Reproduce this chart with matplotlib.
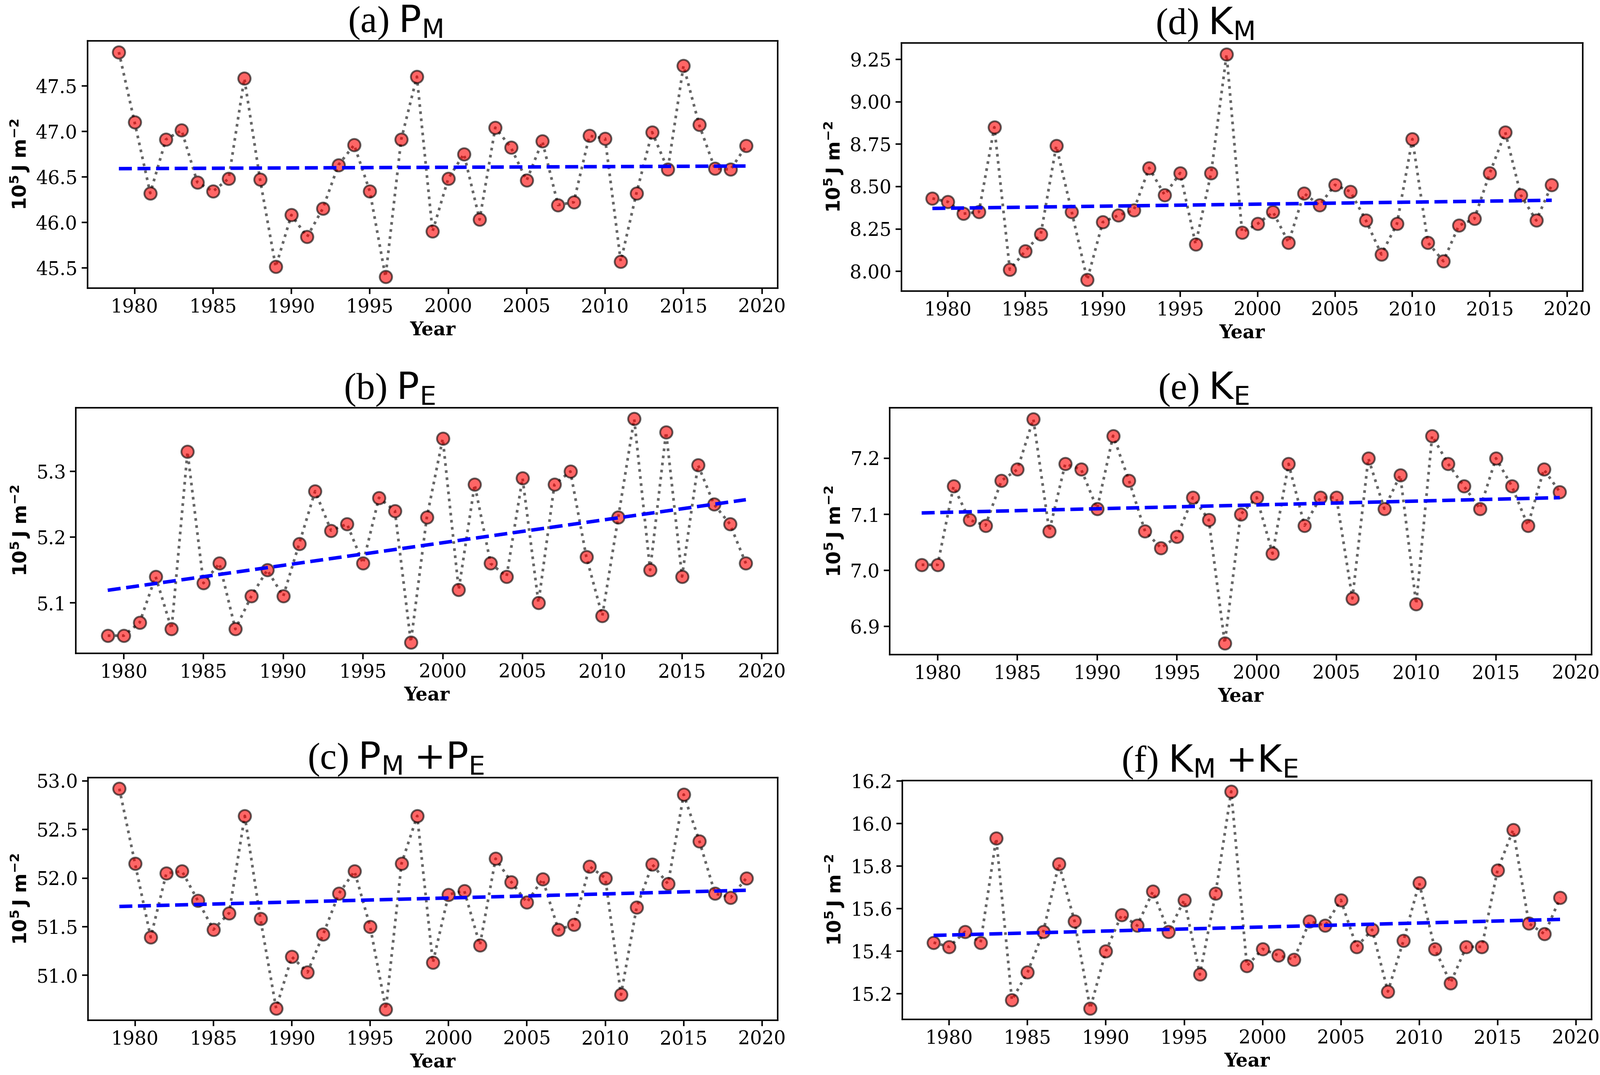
import numpy as np
import matplotlib
matplotlib.use("Agg")
import matplotlib.pyplot as plt

plt.rcParams['font.family'] = 'DejaVu Serif'
plt.rcParams['mathtext.fontset'] = 'dejavusans'

years = np.arange(1979, 2020)

P_M = [47.87, 47.10, 46.32, 46.91, 47.01, 46.44, 46.34, 46.48, 47.58, 46.47,
       45.51, 46.08, 45.84, 46.15, 46.63, 46.85, 46.34, 45.40, 46.91, 47.60,
       45.90, 46.48, 46.75, 46.03, 47.04, 46.82, 46.46, 46.89, 46.19, 46.22,
       46.95, 46.92, 45.57, 46.32, 46.99, 46.58, 47.72, 47.07, 46.59, 46.58,
       46.84]

P_E = [5.05, 5.05, 5.07, 5.14, 5.06, 5.33, 5.13, 5.16, 5.06, 5.11,
       5.15, 5.11, 5.19, 5.27, 5.21, 5.22, 5.16, 5.26, 5.24, 5.04,
       5.23, 5.35, 5.12, 5.28, 5.16, 5.14, 5.29, 5.10, 5.28, 5.30,
       5.17, 5.08, 5.23, 5.38, 5.15, 5.36, 5.14, 5.31, 5.25, 5.22,
       5.16]

P_ME = [52.92, 52.15, 51.39, 52.05, 52.07, 51.77, 51.47, 51.64, 52.64, 51.58,
        50.66, 51.19, 51.03, 51.42, 51.84, 52.07, 51.50, 50.65, 52.15, 52.64,
        51.13, 51.83, 51.87, 51.31, 52.20, 51.96, 51.75, 51.99, 51.47, 51.52,
        52.12, 52.00, 50.80, 51.70, 52.14, 51.94, 52.86, 52.38, 51.84, 51.80,
        52.00]

K_M = [8.43, 8.41, 8.34, 8.35, 8.85, 8.01, 8.12, 8.22, 8.74, 8.35,
       7.95, 8.29, 8.33, 8.36, 8.61, 8.45, 8.58, 8.16, 8.58, 9.28,
       8.23, 8.28, 8.35, 8.17, 8.46, 8.39, 8.51, 8.47, 8.30, 8.10,
       8.28, 8.78, 8.17, 8.06, 8.27, 8.31, 8.58, 8.82, 8.45, 8.30,
       8.51]

K_E = [7.01, 7.01, 7.15, 7.09, 7.08, 7.16, 7.18, 7.27, 7.07, 7.19,
       7.18, 7.11, 7.24, 7.16, 7.07, 7.04, 7.06, 7.13, 7.09, 6.87,
       7.10, 7.13, 7.03, 7.19, 7.08, 7.13, 7.13, 6.95, 7.20, 7.11,
       7.17, 6.94, 7.24, 7.19, 7.15, 7.11, 7.20, 7.15, 7.08, 7.18,
       7.14]

K_ME = [15.44, 15.42, 15.49, 15.44, 15.93, 15.17, 15.30, 15.49, 15.81, 15.54,
        15.13, 15.40, 15.57, 15.52, 15.68, 15.49, 15.64, 15.29, 15.67, 16.15,
        15.33, 15.41, 15.38, 15.36, 15.54, 15.52, 15.64, 15.42, 15.50, 15.21,
        15.45, 15.72, 15.41, 15.25, 15.42, 15.42, 15.78, 15.97, 15.53, 15.48,
        15.65]

titles = ["(a) ", "(b) ", "(c) ", "(d) ", "(e) ", "(f) "]
math_titles = [r"$\mathrm{P_M}$", r"$\mathrm{P_E}$", r"$\mathrm{P_M}$ $\mathrm{+P_E}$",
               r"$\mathrm{K_M}$", r"$\mathrm{K_E}$", r"$\mathrm{K_M}$ $\mathrm{+K_E}$"]
series = [P_M, P_E, P_ME, K_M, K_E, K_ME]

# axes rectangles [left, bottom, width, height] in figure fraction
rects = [
    [0.0547, 0.7320, 0.4313, 0.2300],
    [0.0474, 0.3922, 0.4387, 0.2285],
    [0.0550, 0.0509, 0.4311, 0.2257],
    [0.5634, 0.7292, 0.4258, 0.2308],
    [0.5561, 0.3911, 0.4387, 0.2296],
    [0.5639, 0.0517, 0.4308, 0.2222],
]

fig = plt.figure(figsize=(19, 12.76), dpi=200)

for rect, t, mt, vals in zip(rects, titles, math_titles, series):
    ax = fig.add_axes(rect)
    vals = np.asarray(vals)
    ax.plot(years, vals, linestyle=':', color='k', lw=2.3, alpha=0.6,
            marker='o', markersize=10.5, markerfacecolor='red',
            markeredgecolor='k', markeredgewidth=1.6, zorder=2)
    coef = np.polyfit(years, vals, 1)
    ax.plot(years, np.polyval(coef, years), '--', color='blue', lw=3, zorder=3)
    # title sits slightly left of the axes centre in the reference
    xoff = 0.5 - 0.054 * (0.4313 / rect[2])
    ax.set_title(t + mt, fontsize=32, family='Liberation Serif', x=xoff)
    ax.set_xlabel('Year', fontsize=16, fontweight='bold')
    ax.set_ylabel(r'$\mathbf{10^5\,J\ m^{-2}}$', fontsize=16)
    ax.tick_params(labelsize=16, length=5, width=1.3)
    ax.set_xticks([1980, 1985, 1990, 1995, 2000, 2005, 2010, 2015, 2020])
    for s in ax.spines.values():
        s.set_linewidth(1.3)

fig.savefig('out.png', dpi=200)
